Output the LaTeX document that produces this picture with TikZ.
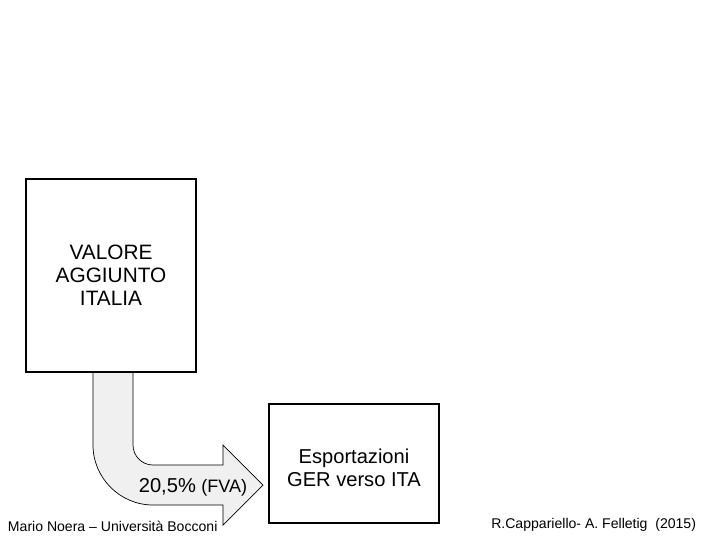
\documentclass[tikz,border=0pt]{standalone}
\usepackage{fontspec}
\setmainfont{Liberation Sans}
\usepackage{tikz}
\usetikzlibrary{positioning,calc}
\usepackage{xcolor}
\definecolor{arrowgray}{HTML}{F0F0F0}

\tikzset{
  box/.style={draw, line width=1.3pt, fill=white, align=center,
    font=\fontsize{14.8}{16.5}\selectfont},
  footer/.style={font=\fontsize{10}{12}\selectfont}
}

\begin{document}
\begin{tikzpicture}[x=0.025cm, y=-0.025cm]
  \useasboundingbox (0,0) rectangle (720,540);
  % Bent arrow from the value-added box to the exports box
  \coordinate (shaftL) at (93,360);
  \coordinate (shaftR) at (133,360);
  \coordinate (tip) at (263,485);
  \filldraw[fill=arrowgray, draw=black, line width=0.5pt]
    (shaftL) -- (93,445) .. controls (93,478) and (120,505) .. (153,505)
    -- (223,505) -- (223,525) -- (tip) -- (223,445) -- (223,465)
    -- (153,465) .. controls (142,465) and (133,456) .. (133,445)
    -- (shaftR) -- cycle;
  \node[font=\fontsize{14.3}{16}\selectfont] (share) at (193,487)
    {20,5\% {\fontsize{12.8}{14}\selectfont(FVA)}};
  % Boxes
  \node[box, minimum width=4.25cm, minimum height=4.825cm] (valore) at (111,275.5)
    {VALORE\\AGGIUNTO\\ITALIA};
  \node[box, minimum width=4.25cm, minimum height=2.975cm,
    label={[align=center, font=\fontsize{14.3}{16.5}\selectfont, yshift=-3pt]center:Esportazioni\\GER verso ITA}]
    (export) at (354,463.5) {};
  % Footers
  \node[footer, anchor=west] (author) at (3,526) {Mario Noera -- Università Bocconi};
  \node[footer, anchor=east] (source) at (701,525)
    {R.Cappariello- A. Felletig\ \ (2015)};
\end{tikzpicture}
\end{document}
